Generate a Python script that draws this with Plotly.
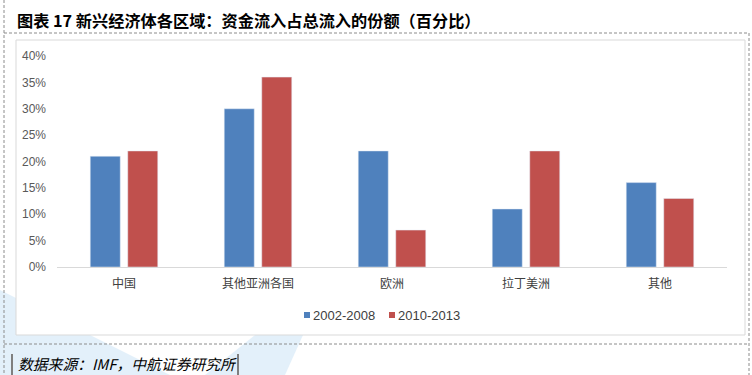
import plotly.graph_objects as go

categories = ["中国", "其他亚洲各国", "欧洲", "拉丁美洲", "其他"]
series_a_name = "2002-2008"
series_a = [0.21, 0.30, 0.22, 0.11, 0.16]
series_b_name = "2010-2013"
series_b = [0.22, 0.36, 0.07, 0.22, 0.13]
y_ticks = [0, 0.05, 0.10, 0.15, 0.20, 0.25, 0.30, 0.35, 0.40]
y_tick_labels = ["0%", "5%", "10%", "15%", "20%", "25%", "30%", "35%", "40%"]
color_a = "#4F81BD"
color_b = "#C0504D"

W, H = 752, 375
L, R, T, B = 57, 727, 56, 267

def px(x):
    return (x - L) / (R - L)

def py(y):
    return (B - y) / (B - T)

fig = go.Figure()
fig.add_trace(go.Bar(x=categories, y=series_a, name=series_a_name, marker_color=color_a, showlegend=False))
fig.add_trace(go.Bar(x=categories, y=series_b, name=series_b_name, marker_color=color_b, showlegend=False))

shapes = []
# faint watermark shapes
wm = "rgba(200,225,245,0.5)"
shapes.append(dict(type="path", xref="paper", yref="paper",
                   path=f"M {px(0)} {py(290)} L {px(170)} {py(375)} L {px(0)} {py(375)} Z",
                   fillcolor=wm, line=dict(width=0), layer="below"))
shapes.append(dict(type="path", xref="paper", yref="paper",
                   path=f"M {px(205)} {py(375)} L {px(330)} {py(275)} L {px(285)} {py(375)} Z",
                   fillcolor=wm, line=dict(width=0), layer="below"))
# white chart area with frame
shapes.append(dict(type="rect", xref="paper", yref="paper",
                   x0=px(16), x1=px(745), y0=py(335), y1=py(40),
                   line=dict(color="#D9D9D9", width=1), fillcolor="white", layer="below"))
# dashed border lines
dash = dict(color="#8C8C8C", width=1, dash="3px,2px")
shapes.append(dict(type="line", xref="paper", yref="paper", x0=px(4), x1=px(749), y0=py(33), y1=py(33), line=dash))
shapes.append(dict(type="line", xref="paper", yref="paper", x0=px(4), x1=px(749), y0=py(344), y1=py(344), line=dash))
shapes.append(dict(type="line", xref="paper", yref="paper", x0=px(4), x1=px(4), y0=py(0), y1=py(375), line=dash))
shapes.append(dict(type="line", xref="paper", yref="paper", x0=px(749), x1=px(749), y0=py(33), y1=py(375), line=dash))
# source bracket
br = dict(color="#7F7F7F", width=2)
shapes.append(dict(type="line", xref="paper", yref="paper", x0=px(12), x1=px(12), y0=py(354), y1=py(375), line=br))
shapes.append(dict(type="line", xref="paper", yref="paper", x0=px(238), x1=px(238), y0=py(354), y1=py(375), line=br))
# legend swatches
shapes.append(dict(type="rect", xref="paper", yref="paper", x0=px(304), x1=px(310), y0=py(318), y1=py(312),
                   fillcolor=color_a, line=dict(width=0)))
shapes.append(dict(type="rect", xref="paper", yref="paper", x0=px(389), x1=px(395), y0=py(318), y1=py(312),
                   fillcolor=color_b, line=dict(width=0)))

annotations = [
    dict(text="<b>图表 17 新兴经济体各区域：资金流入占总流入的份额（百分比）</b>",
         xref="paper", yref="paper", x=px(15), y=py(20), xanchor="left", yanchor="middle",
         showarrow=False, font=dict(family="Noto Sans CJK SC", size=16.2, color="#000000")),
    dict(text="<i>数据来源：IMF，中航证券研究所</i>",
         xref="paper", yref="paper", x=px(16), y=py(363), xanchor="left", yanchor="middle",
         showarrow=False, font=dict(family="Noto Sans CJK SC", size=14.8, color="#000000")),
    dict(text=series_a_name, xref="paper", yref="paper", x=px(311), y=py(315), xanchor="left", yanchor="middle",
         showarrow=False, font=dict(family="Liberation Sans", size=13, color="#404040")),
    dict(text=series_b_name, xref="paper", yref="paper", x=px(396), y=py(315), xanchor="left", yanchor="middle",
         showarrow=False, font=dict(family="Liberation Sans", size=13, color="#404040")),
]

fig.update_layout(
    width=W, height=H,
    margin=dict(l=L, r=W - R, t=T, b=H - B),
    paper_bgcolor="white", plot_bgcolor="rgba(0,0,0,0)",
    barmode="group", bargap=0.44, bargroupgap=0.2,
    showlegend=False,
    shapes=shapes, annotations=annotations,
    font=dict(family="Liberation Sans", color="#595959"),
)
fig.update_xaxes(showline=True, linecolor="#D9D9D9", linewidth=1, ticks="",
                 tickfont=dict(family="Noto Sans CJK SC", size=12, color="#404040"),
                 showgrid=False, ticklabelstandoff=6)
fig.update_yaxes(range=[0, 0.40], tickvals=y_ticks, ticktext=y_tick_labels,
                 showgrid=False, zeroline=False, showline=False,
                 tickfont=dict(family="Liberation Sans", size=12, color="#595959"), ticklabelstandoff=10)

fig.write_html("out.html", config={"displayModeBar": False},
               post_script="document.body.style.margin='0';")
